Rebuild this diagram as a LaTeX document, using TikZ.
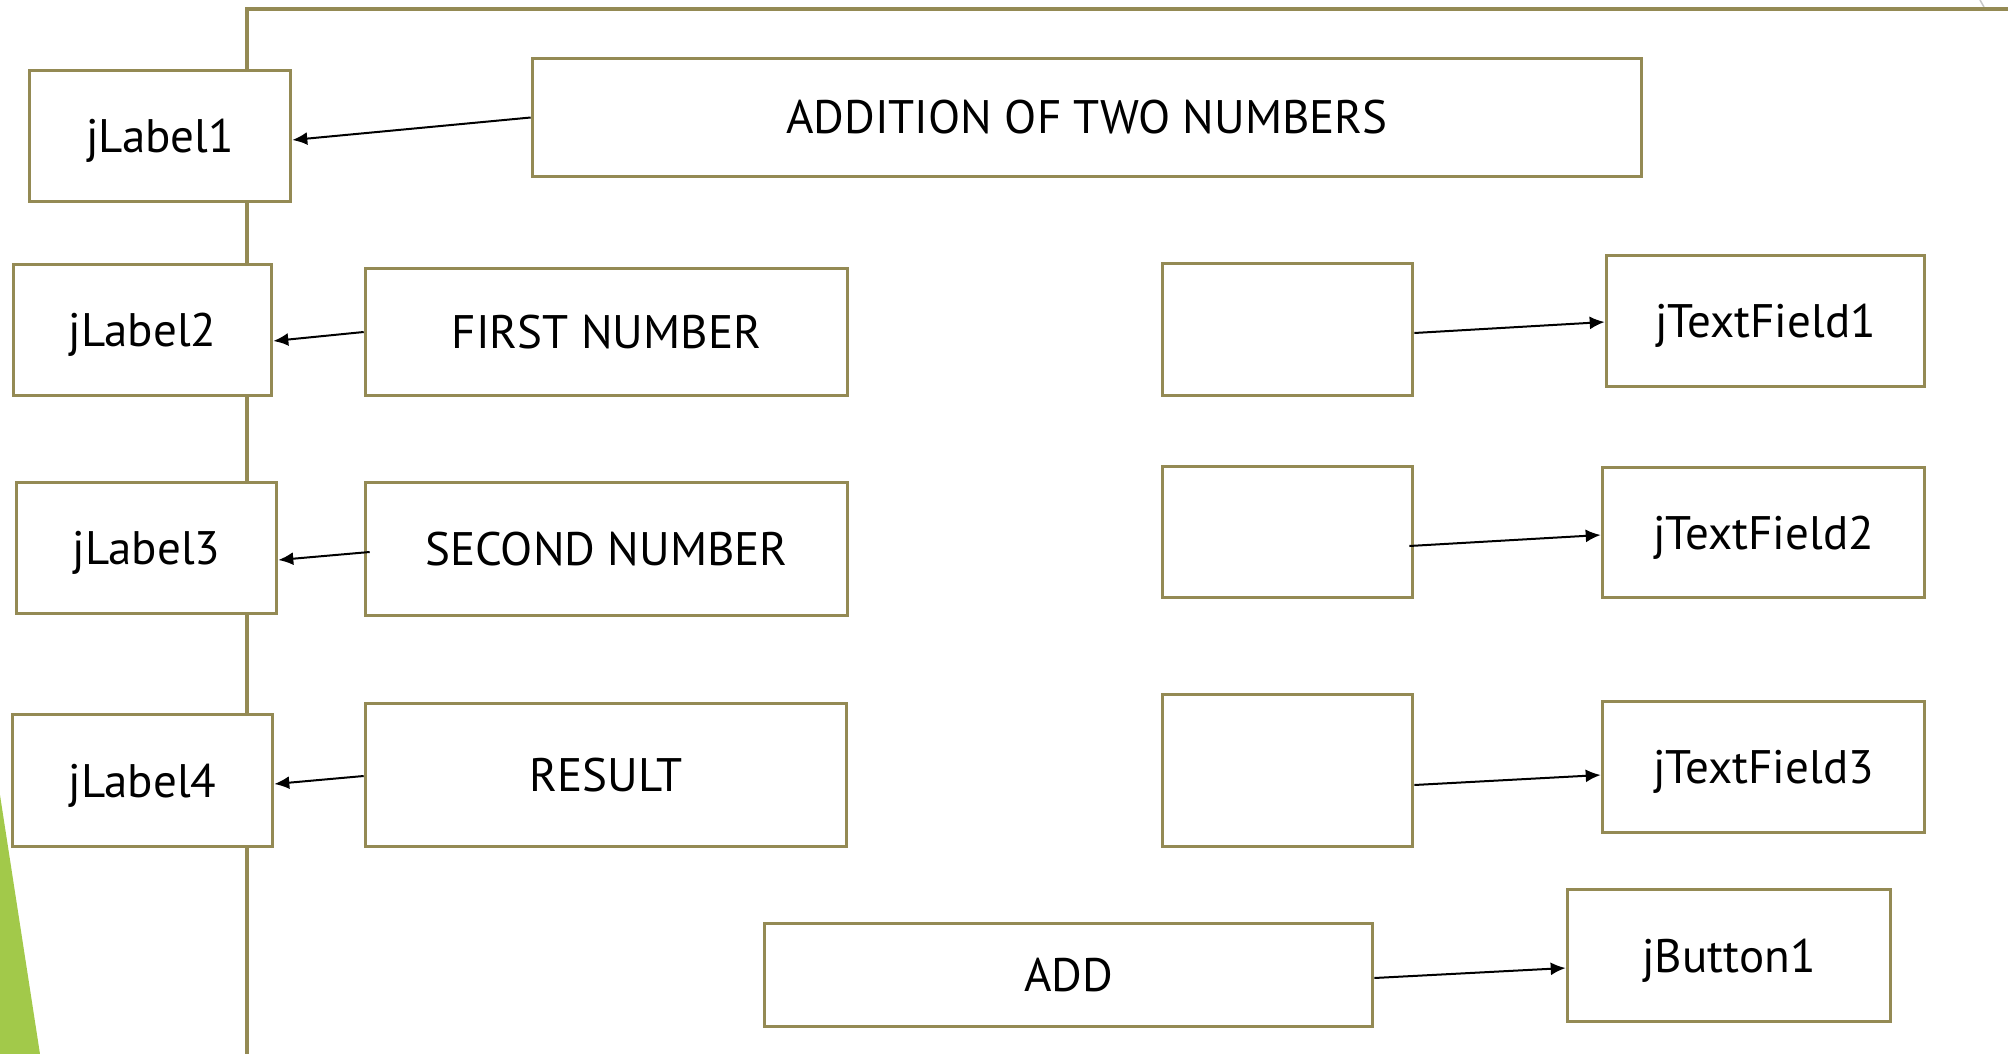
\documentclass[tikz,border=0pt]{standalone}
\usepackage{fontspec}
\setmainfont{PT Sans}
\usetikzlibrary{arrows.meta,calc}
\definecolor{framecol}{HTML}{948A54}
\definecolor{leafgreen}{HTML}{A2C94A}
\begin{document}
\begin{tikzpicture}[x=1pt,y=-1pt,
  box/.style={draw=framecol, line width=3.6pt, fill=white, inner sep=0pt,
    font=\fontsize{47}{56}\selectfont, text height=33pt, text depth=0pt},
  arr/.style={-{Latex[length=15pt,width=13pt]}, line width=2pt, black}]
\useasboundingbox (0,0) rectangle (2008,1054);

% side decoration and frame
\fill[leafgreen] (0,795) -- (40,1054) -- (0,1054) -- cycle;
\draw[black!22, line width=1.5pt] (1980,0) -- (1984,7);
\draw[framecol, line width=3.6pt] (247,1060) -- (247,9) -- (2010,9);

% label column
\node[box, minimum width=261, minimum height=131] (jl1) at (160,136) {jLabel1};
\node[box, minimum width=258, minimum height=131] (jl2) at (142.5,330) {jLabel2};
\node[box, minimum width=260, minimum height=131] (jl3) at (146.5,548) {jLabel3};
\node[box, minimum width=260, minimum height=132] (jl4) at (142.5,780.5) {jLabel4};

% captions
\node[box, minimum width=1109, minimum height=118] (title) at (1087,117.5) {ADDITION OF TWO NUMBERS};
\node[box, minimum width=482, minimum height=127] (first) at (606.5,332) {FIRST NUMBER};
\node[box, minimum width=482, minimum height=133] (second) at (606.5,549) {SECOND NUMBER};
\node[box, minimum width=481, minimum height=143] (result) at (606,775) {RESULT};

% input fields
\node[box, minimum width=250, minimum height=132] (e1) at (1287.5,329.5) {};
\node[box, minimum width=250, minimum height=131] (e2) at (1287.5,532) {};
\node[box, minimum width=250, minimum height=152] (e3) at (1287.5,770.5) {};
\node[box, minimum width=318, minimum height=131] (tf1) at (1765.5,321) {jTextField1};
\node[box, minimum width=322, minimum height=130] (tf2) at (1763.5,532.5) {jTextField2};
\node[box, minimum width=322, minimum height=131] (tf3) at (1763.5,767) {jTextField3};

% button
\node[box, minimum width=608, minimum height=103] (add) at (1068.5,975) {ADD};
\node[box, minimum width=323, minimum height=132] (btn) at (1729,955.5) {jButton1};

% connectors
\draw[arr] (title.west) -- ($(jl1.east)+(0,4)$);
\draw[arr] (first.west) -- ($(jl2.east)+(0,11)$);
\draw[arr] ($(second.west)+(6,3)$) -- ($(jl3.east)+(0,12)$);
\draw[arr] ($(result.west)+(0,1)$) -- ($(jl4.east)+(0,3.5)$);
\draw[arr] ($(e1.east)+(0,3.5)$) -- ($(tf1.west)+(0,1)$);
\draw[arr] ($(e2.east)+(-5,14)$) -- ($(tf2.west)+(0,2.5)$);
\draw[arr] ($(e3.east)+(0,14.5)$) -- ($(tf3.west)+(0,8)$);
\draw[arr] ($(add.east)+(0,3)$) -- ($(btn.west)+(0,12.5)$);
\end{tikzpicture}
\end{document}
